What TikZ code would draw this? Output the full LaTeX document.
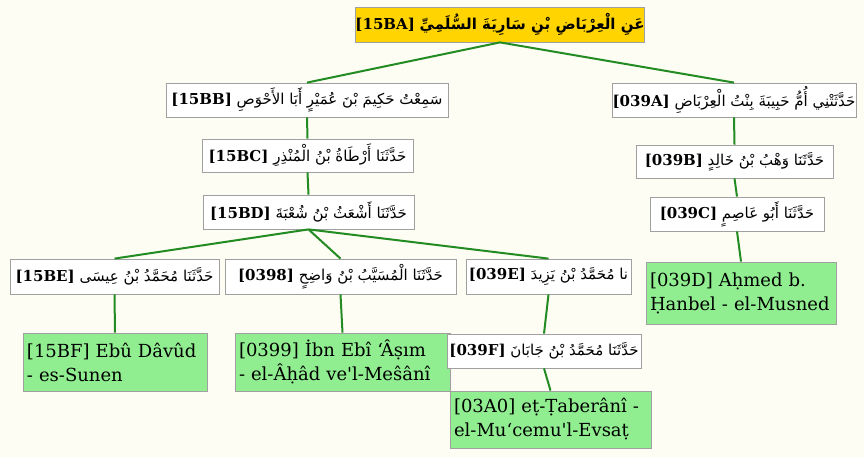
\documentclass[tikz,border=0pt]{standalone}
\usepackage{fontspec}
\setmainfont{DejaVu Serif}[Ligatures=TeXOff]
\newfontfamily\arabicfont[Script=Arabic]{DejaVu Sans}
\TeXXeTstate=1
\definecolor{bgc}{RGB}{253,253,244}
\definecolor{boxgray}{RGB}{160,160,160}
\definecolor{goldc}{RGB}{255,212,0}
\definecolor{greenc}{RGB}{144,238,144}
\definecolor{linkc}{RGB}{34,139,34}
\newcommand\hd[2]{\textbf{[#1]}\ {\arabicfont\fontsize{15}{18}\selectfont\beginR #2\endR}}
\newcommand\hdb[2]{\textbf{[#1]}\ {\arabicfont\bfseries\fontsize{15}{18}\selectfont\beginR #2\endR}}
\tikzset{
  hdr/.style={draw=boxgray, fill=white, line width=0.8pt, inner sep=0pt,
    font=\fontsize{15}{18}\selectfont},
  topbox/.style={hdr, fill=goldc},
  src/.style={draw=boxgray, fill=greenc, line width=0.8pt, inner xsep=4pt,
    inner ysep=0pt, align=left, font=\fontsize{18}{24}\selectfont},
  link/.style={draw=linkc, line width=2pt},
}
\begin{document}
\begin{tikzpicture}[x=1pt,y=1pt]
\fill[bgc] (0,0) rectangle (864,-457);
\useasboundingbox (0,0) rectangle (864,-457);
% nodes
\node[topbox, minimum width=272pt, minimum height=35pt] (ba) at (500,-24.5)
  {\hdb{15BA}{عَنِ الْعِرْبَاضِ بْنِ سَارِيَةَ السُّلَمِيِّ}};
\node[hdr, minimum width=282pt, minimum height=34pt] (bb) at (307,-100)
  {\hd{15BB}{سَمِعْتُ حَكِيمَ بْنَ عُمَيْرٍ أَبَا الأَحْوَصِ}};
\node[hdr, minimum width=244pt, minimum height=34pt] (a39a) at (734,-100)
  {\hd{039A}{حَدَّثَتْنِي أُمُّ حَبِيبَةَ بِنْتُ الْعِرْبَاضِ}};
\node[hdr, minimum width=211pt, minimum height=33pt] (bc) at (307.5,-155.5)
  {\hd{15BC}{حَدَّثَنَا أَرْطَاةُ بْنُ الْمُنْذِرِ}};
\node[hdr, minimum width=211pt, minimum height=34pt] (bd) at (308.5,-212)
  {\hd{15BD}{حَدَّثَنَا أَشْعَثُ بْنُ شُعْبَةَ}};
\node[hdr, minimum width=197pt, minimum height=33pt] (a39b) at (734.5,-161.5)
  {\hd{039B}{حَدَّثَنَا وَهْبُ بْنُ خَالِدٍ}};
\node[hdr, minimum width=174pt, minimum height=34pt] (a39c) at (737,-214)
  {\hd{039C}{حَدَّثَنَا أَبُو عَاصِمٍ}};
\node[src, text width=182pt, minimum height=62pt] (a39d) at (741,-293)
  {[039D] Aḥmed b.\\Ḥanbel - el-Musned};
\node[hdr, minimum width=209pt, minimum height=35pt] (be) at (114.5,-276.5)
  {\hd{15BE}{حَدَّثَنَا مُحَمَّدُ بْنُ عِيسَى}};
\node[hdr, minimum width=231pt, minimum height=35pt] (a398) at (340.5,-276.5)
  {\hd{0398}{حَدَّثَنَا الْمُسَيَّبُ بْنُ وَاضِحٍ}};
\node[hdr, minimum width=165pt, minimum height=35pt] (a39e) at (548.5,-276.5)
  {\hd{039E}{نا مُحَمَّدُ بْنُ يَزِيدَ}};
\node[src, text width=176pt, minimum height=58pt] (bf) at (115,-362)
  {[15BF] Ebû Dâvûd\\- es-Sunen};
\node[src, text width=207pt, minimum height=58pt] (a399) at (342.5,-362)
  {[0399] İbn Ebî ‘Âṣım\\- el-Âḥâd ve'l-Meŝânî};
\node[hdr, minimum width=194pt, minimum height=34pt] (a39f) at (544,-351)
  {\hd{039F}{حَدَّثَنَا مُحَمَّدُ بْنُ جَابَانَ}};
\node[src, text width=193pt, minimum height=57pt] (a3a0) at (550.5,-419.5)
  {[03A0] eṭ-Ṭaberânî -\\el-Mu‘cemu'l-Evsaṭ};
% links
\draw[link] (ba.south) -- (bb.north);
\draw[link] (ba.south) -- (a39a.north);
\draw[link] (bb.south) -- (bc.north);
\draw[link] (bc.south) -- (bd.north);
\draw[link] (bd.south) -- (be.north);
\draw[link] (bd.south) -- (a398.north);
\draw[link] (bd.south) -- (a39e.north);
\draw[link] (be.south) -- (bf.north);
\draw[link] (a398.south) -- (a399.north);
\draw[link] (a39e.south) -- (a39f.north);
\draw[link] (a39f.south) -- (a3a0.north);
\draw[link] (a39a.south) -- (a39b.north);
\draw[link] (a39b.south) -- (a39c.north);
\draw[link] (a39c.south) -- (a39d.north);
\end{tikzpicture}
\end{document}
